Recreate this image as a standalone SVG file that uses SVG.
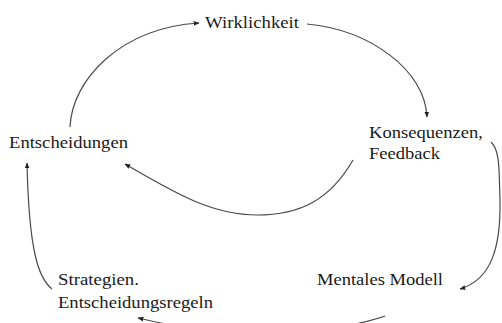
<svg xmlns="http://www.w3.org/2000/svg" width="502" height="323" viewBox="0 0 502 323">
<defs>
<style>
.t{font-family:"Liberation Serif","Times New Roman",serif;font-size:16.5px;fill:#1a1a1a}
.c{fill:none;stroke:#4a4a4a;stroke-width:1.2}
</style>
<marker id="ah" viewBox="0 0 10 10" refX="9" refY="5" markerWidth="6" markerHeight="6" orient="auto" markerUnits="userSpaceOnUse">
<path d="M0,1 L10,5 L0,9 Z" fill="#222"/>
</marker>
</defs>
<rect width="502" height="323" fill="#fff"/>
<g id="connectors">
<path class="c" d="M70,127 C72,80 120,28 199,23" marker-end="url(#ah)"/>
<path class="c" d="M307,24 C370,30 425,70 427,117" marker-end="url(#ah)"/>
<path class="c" d="M353,160 C330,200 300,215 257,215 C210,215 170,190 125,164" marker-end="url(#ah)"/>
<path class="c" d="M491,142 C500,150 499,170 500,200 C501,250 490,280 460,289" marker-end="url(#ah)"/>
<path class="c" d="M385,316 C360,325 300,335 260,335 C210,335 170,325 138,318" marker-end="url(#ah)"/>
<path class="c" d="M52,289 C38,278 29,250 27,163" marker-end="url(#ah)"/>
</g>
<g id="wirklichkeit"><text class="t" x="205" y="28" textLength="94" lengthAdjust="spacingAndGlyphs">Wirklichkeit</text></g>
<g id="konsequenzen"><text class="t" x="369" y="138" textLength="114" lengthAdjust="spacingAndGlyphs">Konsequenzen,</text><text class="t" x="369" y="159" textLength="71" lengthAdjust="spacingAndGlyphs">Feedback</text></g>
<g id="entscheidungen"><text class="t" x="9" y="148" textLength="119" lengthAdjust="spacingAndGlyphs">Entscheidungen</text></g>
<g id="mentales-modell"><text class="t" x="317" y="285" textLength="126" lengthAdjust="spacingAndGlyphs">Mentales Modell</text></g>
<g id="strategien"><text class="t" x="58" y="285" textLength="81" lengthAdjust="spacingAndGlyphs">Strategien.</text><text class="t" x="58" y="308" textLength="155" lengthAdjust="spacingAndGlyphs">Entscheidungsregeln</text></g>
</svg>
